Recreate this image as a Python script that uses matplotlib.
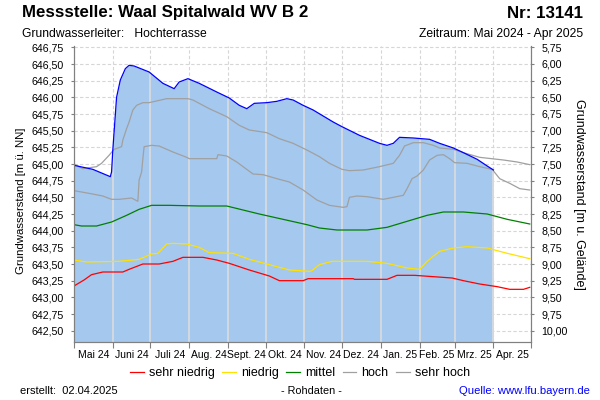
import numpy as np
import pandas as pd
import matplotlib
matplotlib.use("Agg")
import matplotlib.pyplot as plt
from matplotlib.ticker import FuncFormatter, NullFormatter

plt.rcParams['font.family'] = ['Liberation Sans', 'DejaVu Sans']

# Start of the period, all series are given as days since this date
start = pd.Timestamp("2024-05-01")
end = pd.Timestamp("2025-05-01")

# Measured groundwater level (m ü. NN)
mess_tage = [0, 15, 29, 30, 31, 34, 37, 41, 44, 48, 60, 71, 80, 84, 91, 100, 114, 124,
             132, 138, 144, 154, 162, 170, 175, 183, 191, 207, 214, 228, 244, 250, 255,
             260, 271, 284, 292, 303, 311, 322, 330, 335]
mess_wert = [644.98, 644.92, 644.81, 644.88, 645.21, 646.00, 646.26, 646.43, 646.48, 646.47,
             646.38, 646.21, 646.13, 646.23, 646.28, 646.21, 646.08, 645.99, 645.88, 645.83,
             645.91, 645.92, 645.94, 645.98, 645.96, 645.88, 645.81, 645.63, 645.56, 645.43,
             645.31, 645.28, 645.31, 645.40, 645.39, 645.37, 645.31, 645.24, 645.17, 645.07,
             644.97, 644.91]

# Reference lines
sn_tage = [0, 8, 14, 23, 39, 44, 55, 68, 79, 87, 103, 114, 124, 140, 156, 164, 183, 187,
           223, 224, 250, 258, 272, 287, 302, 311, 324, 338, 348, 359, 364]
sn_wert = [643.17, 643.26, 643.34, 643.38, 643.38, 643.42, 643.50, 643.50, 643.54, 643.60,
           643.60, 643.56, 643.51, 643.41, 643.32, 643.25, 643.25, 643.28, 643.28, 643.27,
           643.27, 643.33, 643.33, 643.31, 643.29, 643.25, 643.20, 643.16, 643.12, 643.12,
           643.15]

n_tage = [0, 10, 36, 52, 62, 67, 74, 79, 90, 100, 108, 127, 140, 156, 172, 188, 190, 196,
          206, 234, 250, 266, 276, 282, 292, 303, 314, 330, 346, 364]
n_wert = [643.56, 643.53, 643.54, 643.57, 643.65, 643.66, 643.80, 643.81, 643.80, 643.75,
          643.67, 643.66, 643.57, 643.49, 643.41, 643.39, 643.40, 643.49, 643.54, 643.54,
          643.51, 643.44, 643.42, 643.54, 643.69, 643.74, 643.76, 643.74, 643.66, 643.58]

m_tage = [0, 6, 18, 30, 42, 52, 62, 76, 100, 122, 135, 148, 167, 186, 196, 210, 234, 250,
          266, 282, 295, 311, 330, 346, 364]
m_wert = [644.09, 644.07, 644.07, 644.13, 644.23, 644.32, 644.38, 644.38, 644.37, 644.37,
          644.31, 644.25, 644.17, 644.09, 644.04, 644.01, 644.01, 644.05, 644.14, 644.23,
          644.28, 644.28, 644.25, 644.17, 644.10]

h_tage = [0, 12, 23, 30, 36, 46, 48, 51, 52, 54, 55, 56, 62, 68, 79, 90, 92, 114, 115, 122,
          130, 143, 151, 162, 172, 183, 194, 204, 215, 218, 220, 226, 234, 247, 255, 263,
          266, 270, 274, 279, 284, 290, 295, 300, 304, 314, 324, 334, 340, 348, 356, 364]
h_wert = [644.60, 644.56, 644.52, 644.47, 644.47, 644.49, 644.47, 644.44, 644.76, 644.88,
          645.08, 645.26, 645.28, 645.27, 645.18, 645.10, 645.08, 645.08, 645.14, 645.12,
          645.03, 644.85, 644.84, 644.78, 644.73, 644.61, 644.46, 644.38, 644.35, 644.36,
          644.50, 644.52, 644.51, 644.47, 644.50, 644.53, 644.63, 644.78, 644.82, 644.91,
          645.06, 645.13, 645.14, 645.08, 645.02, 645.01, 644.96, 644.92, 644.78, 644.71,
          644.63, 644.61]

sh_tage = [0, 7, 18, 22, 28, 32, 38, 39, 42, 44, 47, 50, 55, 60, 74, 91, 95, 108, 122, 132,
           140, 154, 164, 175, 187, 196, 204, 214, 220, 231, 244, 255, 260, 264, 271, 279,
           287, 292, 303, 311, 324, 343, 354, 364]
sh_wert = [645.00, 644.93, 644.96, 645.01, 645.13, 645.22, 645.26, 645.36, 645.53, 645.63,
           645.81, 645.88, 645.92, 645.92, 645.98, 645.98, 645.96, 645.83, 645.71, 645.58,
           645.51, 645.47, 645.38, 645.31, 645.20, 645.11, 645.01, 644.92, 644.90, 644.91,
           644.96, 645.01, 645.13, 645.27, 645.32, 645.32, 645.28, 645.24, 645.22, 645.17,
           645.10, 645.06, 645.03, 644.99]

monat_namen = ["Mai 24", "Juni 24", "Juli 24", "Aug. 24", "Sept. 24", "Okt. 24",
               "Nov. 24", "Dez. 24", "Jan. 25", "Feb. 25", "Mrz. 25", "Apr. 25"]

gelaende = 652.5  # ground level, right axis = gelaende - left axis
ymin, ymax = 642.33, 646.77


def to_dates(tage):
    return start + pd.to_timedelta(tage, unit="D")


fig = plt.figure(figsize=(6, 4), dpi=100)
ax = fig.add_axes([74 / 600, 1 - 342 / 400, (531 - 74) / 600, (342 - 46) / 400])

mess_x = to_dates(mess_tage)
ax.fill_between(mess_x, ymin, mess_wert, color="#a5c8ee", lw=0, zorder=1)

# light month separators inside the filled area
monate = pd.date_range(start, end, freq="MS")
mess_num = np.array(mess_tage, dtype=float)
for mo in monate[1:]:
    t = (mo - start).days
    if t <= mess_num[-1]:
        ax.plot([mo, mo], [ymin, np.interp(t, mess_num, mess_wert)], color="#dcdcdc",
                lw=1.2, zorder=1.5, solid_capstyle="butt")

lw = 0.9
ax.plot(to_dates(sn_tage), sn_wert, color="#ff0000", lw=lw, zorder=3, label="sehr niedrig")
ax.plot(to_dates(n_tage), n_wert, color="#ffe100", lw=lw, zorder=3, label="niedrig")
ax.plot(to_dates(m_tage), m_wert, color="#008000", lw=lw, zorder=3, label="mittel")
ax.plot(to_dates(h_tage), h_wert, color="#a0a0a0", lw=lw, zorder=3, label="hoch")
ax.plot(to_dates(sh_tage), sh_wert, color="#a0a0a0", lw=lw, zorder=3, label="sehr hoch")
ax.plot(mess_x, mess_wert, color="#0000ff", lw=lw, zorder=4)

ax.set_xlim(start, end)
ax.set_ylim(ymin, ymax)

# x axis: ticks at month starts, labels in the middle of each month
mitten = monate[:-1] + (monate[1:] - monate[:-1]) / 2
ax.set_xticks(monate)
ax.xaxis.set_major_formatter(NullFormatter())
ax.set_xticks(mitten, minor=True)
ax.set_xticklabels(monat_namen, minor=True)
ax.tick_params(axis="x", which="major", length=4, color="#808080", direction="out")
ax.tick_params(axis="x", which="minor", length=0, labelsize=7.5, pad=6)

yt = np.arange(642.5, 646.76, 0.25)
ax.set_yticks(yt)
fmt = FuncFormatter(lambda v, p: f"{v:.2f}".replace(".", ","))
ax.yaxis.set_major_formatter(fmt)
ax.tick_params(axis="y", length=2.5, color="#808080", labelsize=7.7, pad=5)

ax.grid(True, which="major", color="#d6d6d6", ls=(0, (3, 2)), lw=0.8)
ax.set_axisbelow(True)

for s in ["left", "bottom", "right"]:
    ax.spines[s].set_color("#808080")
ax.spines["top"].set_visible(False)

ax2 = ax.twinx()
ax2.set_ylim(gelaende - ymin, gelaende - ymax)
ax2.set_yticks(np.arange(5.75, 10.01, 0.25))
ax2.yaxis.set_major_formatter(fmt)
ax2.tick_params(axis="y", length=2.5, color="#808080", labelsize=7.7, pad=5)
for s in ["left", "bottom", "right"]:
    ax2.spines[s].set_color("#808080")
ax2.spines["top"].set_visible(False)

# axis titles
fig.text(21 / 600, 1 - 201 / 400, "Grundwasserstand [m ü. NN]", fontsize=8.2,
         rotation=90, va="center", ha="center")
fig.text(579 / 600, 1 - 194 / 400, "Grundwasserstand [m u. Gelände]", fontsize=9,
         rotation=-90, va="center", ha="center")

# header
fig.text(22 / 600, 1 - 13 / 400, "Messstelle: Waal Spitalwald WV B 2", fontsize=12.2,
         fontweight="bold", va="center", ha="left")
fig.text(583 / 600, 1 - 13 / 400, "Nr: 13141", fontsize=12.2, fontweight="bold",
         va="center", ha="right")
fig.text(22 / 600, 1 - 34 / 400, "Grundwasserleiter:   Hochterrasse", fontsize=8.7,
         va="center", ha="left")
fig.text(583 / 600, 1 - 34 / 400, "Zeitraum: Mai 2024 - Apr 2025", fontsize=8.7,
         va="center", ha="right")

handles, labels = ax.get_legend_handles_labels()
fig.legend(handles, labels, loc="center", bbox_to_anchor=(0.5, 1 - 373 / 400), ncol=5,
           frameon=False, fontsize=9, handlelength=1.1, handletextpad=0.4,
           columnspacing=0.6)

# footer
fig.text(20 / 600, 1 - 391 / 400, "erstellt:  02.04.2025", fontsize=8, va="center", ha="left")
fig.text(311 / 600, 1 - 391 / 400, "- Rohdaten -", fontsize=7.8, va="center", ha="center")
fig.text(590 / 600, 1 - 391 / 400, "Quelle: www.lfu.bayern.de", fontsize=8.1, va="center",
         ha="right", color="#0000ff")

fig.savefig("out.png", dpi=100)
